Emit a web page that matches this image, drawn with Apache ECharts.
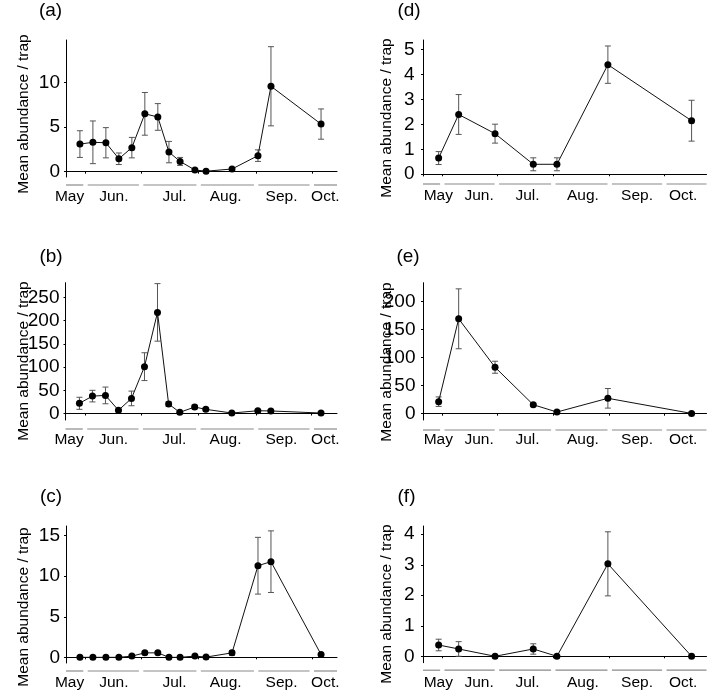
<!DOCTYPE html>
<html><head><meta charset="utf-8">
<script src="https://cdn.jsdelivr.net/npm/echarts@6/dist/echarts.min.js"></script>
<style>html,body{margin:0;padding:0;background:#fff}#c{width:708px;height:692px}</style>
</head><body><div id="c"></div>
<script>
// ---- data (x = day of year) ----
const daysLeft  = [149,156,163,170,177,184,191,197,203,211,217,231,245,252,279];
const aMean = [3.1,3.3,3.25,1.45,2.7,6.5,6.15,2.2,1.15,0.19,0.05,0.3,1.8,9.6,5.35];
const aErr  = [1.5,2.4,1.7,0.65,1.15,2.4,1.5,1.2,0.45,0.08,0.05,0.1,0.65,4.45,1.7];
const bMean = [22,37.5,39,7,32.5,101,218,20.5,2.5,14,9,1,6,5.5,1];
const bErr  = [13,12.5,18,2,15.8,30,62,5,1.5,4,3,1,2,2,1];
const cMean = [0,0,0,0,0.15,0.55,0.55,0,0,0.15,0.03,0.55,11.3,11.8,0.35];
const cErr  = [0,0,0,0,0.05,0.2,0.2,0,0,0.05,0.02,0.3,3.5,3.8,0.15];

const daysRight = [150,161,181,202,215,243,289];
const dMean = [0.65,2.4,1.63,0.4,0.4,4.4,2.15];
const dErr  = [0.26,0.8,0.38,0.26,0.26,0.75,0.82];
const eMean = [21.5,169.5,83,16,3,27.5,0.5];
const eErr  = [8.5,53.5,10.7,3,1.5,17.5,0.5];
const fMean = [0.37,0.24,0,0.24,0,3.03,0];
const fErr  = [0.19,0.24,0,0.17,0,1.05,0];

const monthNames  = ['May','Jun.','Jul.','Aug.','Sep.','Oct.'];
const monthStarts = [121,152,182,213,244,274,305];
const monthTicks  = [152,182,213,244,274];
const labelDaysLeft  = [143.4,167.3,200,227.6,257.7,281.3];
const labelDaysRight = [149.8,172.2,198.8,229.3,259,284.4];

const ticksA = [0,5,10];
const ticksB = [0,50,100,150,200,250];
const ticksC = [0,5,10,15];
const ticksD = [0,1,2,3,4,5];
const ticksE = [0,50,100,150,200];
const ticksF = [0,1,2,3,4];

const yTitle = 'Mean abundance / trap';
const FONT = '"Liberation Sans", Arial, Helvetica, sans-serif';

// ---- layout ----
const panels = [
  {tag:'(a)', days:daysLeft, mean:aMean, err:aErr, ticks:ticksA, lab:labelDaysLeft,
   grid:{left:66,top:40,width:271,height:137}, x:[141.5,287.6], y:[-0.6,14.8], seg:8, ym:6,
   tagPos:[50.5,11], titlePos:[24,114]},
  {tag:'(b)', days:daysLeft, mean:bMean, err:bErr, ticks:ticksB, lab:labelDaysLeft,
   grid:{left:65.5,top:282.7,width:271.5,height:137.3}, x:[141.5,287.6], y:[-14,282], seg:9, ym:6,
   tagPos:[51,257], titlePos:[24,361]},
  {tag:'(c)', days:daysLeft, mean:cMean, err:cErr, ticks:ticksC, lab:labelDaysLeft,
   grid:{left:66,top:526,width:271,height:137}, x:[141.5,287.6], y:[-0.7,16.2], seg:8, ym:6,
   tagPos:[51,497], titlePos:[24,607]},
  {tag:'(d)', days:daysRight, mean:dMean, err:dErr, ticks:ticksD, lab:labelDaysRight,
   grid:{left:423,top:40,width:283.5,height:136}, x:[141.4,297.2], y:[-0.07,5.39], seg:8, ym:8.5,
   tagPos:[409,10.5], titlePos:[386.5,118]},
  {tag:'(e)', days:daysRight, mean:eMean, err:eErr, ticks:ticksE, lab:labelDaysRight,
   grid:{left:423,top:282.7,width:283.5,height:137.3}, x:[141.4,297.2], y:[-11.25,234], seg:10, ym:7.5,
   tagPos:[408,256.5], titlePos:[386.5,362]},
  {tag:'(f)', days:daysRight, mean:fMean, err:fErr, ticks:ticksF, lab:labelDaysRight,
   grid:{left:423,top:526,width:283.5,height:136.7}, x:[141.4,297.2], y:[-0.21,4.27], seg:7.5, ym:8.5,
   tagPos:[406.5,497], titlePos:[386.5,604]}
];

function errRender(params, api){
  const x = api.value(0), lo = api.value(1), hi = api.value(2);
  if (!(hi - lo > 0)) return null;
  const p1 = api.coord([x, lo]), p2 = api.coord([x, hi]);
  const w = 3, st = {stroke:'#555', lineWidth:1};
  return {type:'group', children:[
    {type:'line', shape:{x1:p1[0],y1:p1[1],x2:p2[0],y2:p2[1]}, style:st},
    {type:'line', shape:{x1:p1[0]-w,y1:p1[1],x2:p1[0]+w,y2:p1[1]}, style:st},
    {type:'line', shape:{x1:p2[0]-w,y1:p2[1],x2:p2[0]+w,y2:p2[1]}, style:st}
  ]};
}
function segRender(p){
  return function(params, api){
    const s = api.value(0), e = api.value(1);
    const s2 = Math.max(s, p.x[0]), e2 = Math.min(e, p.x[1]);
    if (s2 >= e2) return null;
    const a = api.coord([s2, p.y[0]]), b = api.coord([e2, p.y[0]]);
    const x1 = a[0] + (s > p.x[0] ? 2.2 : 0), x2 = b[0] - (e < p.x[1] ? 2.2 : 0);
    const yy = a[1] + p.seg;
    return {type:'line', shape:{x1:x1,y1:yy,x2:x2,y2:yy}, style:{stroke:'#8a8a8a', lineWidth:1.2}};
  };
}

const grids = [], xAxes = [], yAxes = [], series = [], graphic = [];
const segData = [];
for (let i = 0; i < monthStarts.length - 1; i++) segData.push([monthStarts[i], monthStarts[i+1]]);

panels.forEach((p, i) => {
  grids.push(Object.assign({outerBoundsMode:'none', containLabel:false}, p.grid));
  xAxes.push({
    type:'value', gridIndex:i, min:p.x[0], max:p.x[1],
    axisLine:{show:true, lineStyle:{color:'#000', width:1}},
    axisTick:{show:true, customValues:monthTicks, length:2, lineStyle:{color:'#000'}},
    axisLabel:{show:true, customValues:p.lab, margin:12, color:'#000', fontSize:15.5, fontFamily:FONT,
      formatter:(v) => { const k = p.lab.indexOf(v); return k >= 0 ? monthNames[k] : ''; }},
    splitLine:{show:false}
  });
  yAxes.push({
    type:'value', gridIndex:i, min:p.y[0], max:p.y[1],
    axisLine:{show:true, lineStyle:{color:'#000', width:1}},
    axisTick:{show:true, customValues:p.ticks, length:2, lineStyle:{color:'#000'}},
    axisLabel:{show:true, customValues:p.ticks, margin:p.ym, color:'#000', fontSize:19, fontFamily:FONT},
    splitLine:{show:false}
  });
  series.push({
    type:'custom', xAxisIndex:i, yAxisIndex:i, clip:false, silent:true, z:1,
    renderItem:errRender,
    data:p.days.map((d, k) => [d, p.mean[k] - p.err[k], p.mean[k] + p.err[k]])
  });
  series.push({
    type:'line', xAxisIndex:i, yAxisIndex:i, z:3, symbol:'circle', symbolSize:7, showSymbol:true,
    itemStyle:{color:'#000'}, lineStyle:{color:'#111', width:1},
    data:p.days.map((d, k) => [d, p.mean[k]])
  });
  series.push({
    type:'custom', xAxisIndex:i, yAxisIndex:i, clip:false, silent:true,
    renderItem:segRender(p), data:segData
  });
  graphic.push({type:'text', x:p.tagPos[0], y:p.tagPos[1],
    style:{text:p.tag, fill:'#000', font:'19px ' + FONT, textAlign:'center', textVerticalAlign:'middle'}});
  graphic.push({type:'text', x:p.titlePos[0], y:p.titlePos[1], rotation:Math.PI/2,
    style:{text:yTitle, fill:'#000', font:'15.5px ' + FONT, textAlign:'center', textVerticalAlign:'middle'}});
});

const chart = echarts.init(document.getElementById('c'), null, {renderer:'canvas'});
chart.setOption({
  animation:false, backgroundColor:'#fff',
  grid:grids, xAxis:xAxes, yAxis:yAxes, series:series, graphic:graphic
});
</script></body></html>
